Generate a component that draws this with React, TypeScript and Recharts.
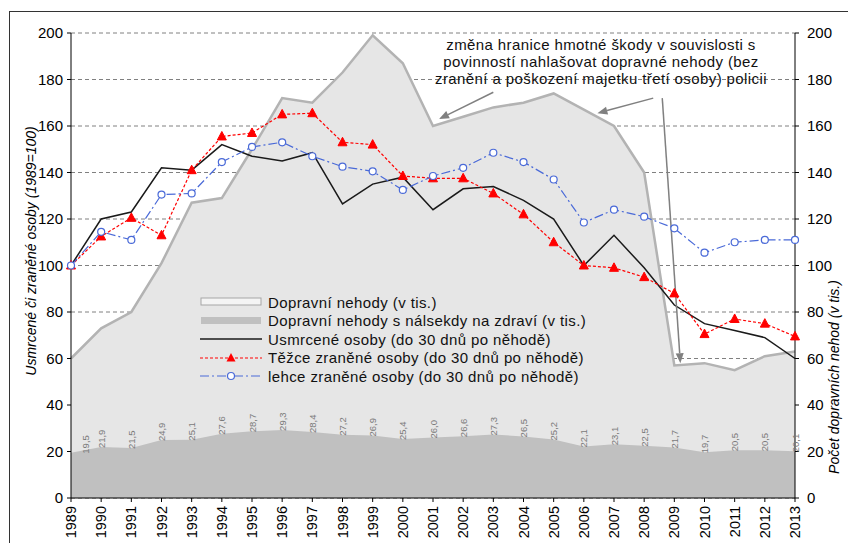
import React from "react";
import {
  ComposedChart,
  Area,
  Line,
  XAxis,
  YAxis,
  CartesianGrid,
  Legend,
  LabelList,
  ReferenceLine,
} from "recharts";

const years = [
  1989, 1990, 1991, 1992, 1993, 1994, 1995, 1996, 1997, 1998, 1999, 2000, 2001,
  2002, 2003, 2004, 2005, 2006, 2007, 2008, 2009, 2010, 2011, 2012, 2013,
];

// Dopravní nehody (v tis.)
const accidents = [
  60, 73, 80, 101, 127, 129, 150, 172, 170, 183, 199, 187, 160, 164, 168, 170,
  174, 167, 160, 140, 57, 58, 55, 61, 63,
];

// Dopravní nehody s následky na zdraví (v tis.)
const injuryAccidents = [
  19.5, 21.9, 21.5, 24.9, 25.1, 27.6, 28.7, 29.3, 28.4, 27.2, 26.9, 25.4, 26.0,
  26.6, 27.3, 26.5, 25.2, 22.1, 23.1, 22.5, 21.7, 19.7, 20.5, 20.5, 20.1,
];

// indexes, 1989 = 100
const killed = [
  100, 120, 123, 142, 141, 152, 147, 145, 148.5, 126.5, 135, 138, 124, 133, 134,
  128, 120, 100, 113, 99, 83, 75, 72, 69, 60,
];
const seriouslyInjured = [
  100, 112.5, 120.5, 113, 141, 155.5, 157, 165, 165.5, 153, 152, 138.5, 137.5,
  137.5, 131, 122, 110, 100, 99, 95, 88, 70.5, 77, 75, 69.5,
];
const slightlyInjured = [
  100, 114.5, 111, 130.5, 131, 144.5, 151, 153, 147, 142.5, 140.5, 132.5, 138.5,
  142, 148.5, 144.5, 137, 118.5, 124, 121, 116, 105.5, 110, 111, 111,
];

const yTicks = [0, 20, 40, 60, 80, 100, 120, 140, 160, 180, 200];

const legendLabels = [
  "Dopravní nehody (v tis.)",
  "Dopravní nehody s nálsekdy na zdraví (v tis.)",
  "Usmrcené osoby (do 30 dnů po něhodě)",
  "Těžce zraněné osoby (do 30 dnů po něhodě)",
  "lehce zraněné osoby (do 30 dnů po něhodě)",
];

const noteLines = [
  "změna hranice hmotné škody v souvislosti s",
  "povinností nahlašovat dopravné nehody (bez",
  "zranění a poškození majetku třetí osoby) policii",
];

// arrows from the note: [fromYear, fromValue, toYear, toValue]
const noteArrows = [
  [2003.0, 174.5, 2001.2, 163],
  [2008.3, 172, 2006.45, 165.5],
  [2008.6, 172, 2009.2, 58],
];

const data = years.map((year, i) => ({
  year,
  accidents: accidents[i],
  injuryAccidents: injuryAccidents[i],
  killed: killed[i],
  seriouslyInjured: seriouslyInjured[i],
  slightlyInjured: slightlyInjured[i],
}));

const FONT = "'Liberation Sans', Arial, sans-serif";

const XTick = (props: any) => {
  const { x, y, payload } = props;
  return (
    <text
      transform={`translate(${x},${y + 2}) rotate(-90)`}
      textAnchor="end"
      dominantBaseline="central"
      fontSize={14.5}
      fontFamily={FONT}
      fill="#000"
    >
      {payload.value}
    </text>
  );
};

const Triangle = (props: any) => {
  const { cx, cy, index } = props;
  if (cx == null || cy == null) return <g key={`t-${index}`} />;
  return (
    <polygon
      key={`t-${index}`}
      points={`${cx},${cy - 5} ${cx - 4.5},${cy + 3.5} ${cx + 4.5},${cy + 3.5}`}
      fill="#ff0000"
      stroke="#ff0000"
      strokeWidth={1}
    />
  );
};

const Ring = (props: any) => {
  const { cx, cy, index } = props;
  if (cx == null || cy == null) return <g key={`r-${index}`} />;
  return (
    <circle
      key={`r-${index}`}
      cx={cx}
      cy={cy}
      r={3.5}
      fill="#fff"
      stroke="#4a6ad8"
      strokeWidth={1.2}
    />
  );
};

const InjuryLabel = (props: any) => {
  const { x, y, value, index } = props;
  const lx = index === 0 ? x + 14 : x;
  return (
    <text
      transform={`translate(${lx},${y + 1}) rotate(-90)`}
      textAnchor="start"
      dominantBaseline="central"
      fontSize={9.5}
      fontFamily={FONT}
      fill="#7a7a7a"
    >
      {Number(value).toFixed(1).replace(".", ",")}
    </text>
  );
};

const Arrow = (props: any) => {
  const { x1, y1, x2, y2 } = props;
  const ang = Math.atan2(y2 - y1, x2 - x1);
  const len = 10;
  const w = 4;
  const bx = x2 - len * Math.cos(ang);
  const by = y2 - len * Math.sin(ang);
  const px = -Math.sin(ang) * w;
  const py = Math.cos(ang) * w;
  return (
    <g>
      <line x1={x1} y1={y1} x2={bx} y2={by} stroke="#808080" strokeWidth={1.5} />
      <polygon
        points={`${x2},${y2} ${bx + px},${by + py} ${bx - px},${by - py}`}
        fill="#808080"
      />
    </g>
  );
};

const LegendSymbol = ({ i }: { i: number }) => {
  if (i === 0)
    return (
      <svg width={62} height={12}>
        <rect x={1} y={2} width={60} height={7} fill="#f4f4f4" stroke="#a6a6a6" />
      </svg>
    );
  if (i === 1)
    return (
      <svg width={62} height={12}>
        <rect x={1} y={2} width={60} height={7} fill="#c0c0c0" />
      </svg>
    );
  if (i === 2)
    return (
      <svg width={62} height={12}>
        <line x1={0} y1={6} x2={62} y2={6} stroke="#1a1a1a" strokeWidth={1.5} />
      </svg>
    );
  if (i === 3)
    return (
      <svg width={62} height={12}>
        <line x1={0} y1={6} x2={62} y2={6} stroke="#ff0000" strokeWidth={1.2} strokeDasharray="3 2" />
        <polygon points="31,1 26.5,9.5 35.5,9.5" fill="#ff0000" />
      </svg>
    );
  return (
    <svg width={62} height={12}>
      <line x1={0} y1={6} x2={62} y2={6} stroke="#4a6ad8" strokeWidth={1.2} strokeDasharray="9 3 2 3" />
      <circle cx={31} cy={6} r={3.5} fill="#fff" stroke="#4a6ad8" strokeWidth={1.2} />
    </svg>
  );
};

const ChartLegend = () => (
  <div style={{ fontFamily: FONT, fontSize: 15, letterSpacing: 0.4, color: "#111" }}>
    {legendLabels.map((label, i) => (
      <div
        key={label}
        style={{ display: "flex", alignItems: "center", height: 18.5, whiteSpace: "nowrap" }}
      >
        <LegendSymbol i={i} />
        <span style={{ marginLeft: 6 }}>{label}</span>
      </div>
    ))}
  </div>
);

export default function App() {
  return (
    <div
      style={{
        position: "absolute",
        left: 0,
        top: 0,
        width: 848,
        height: 543,
        background: "#fff",
        overflow: "hidden",
      }}
    >
      <div
        style={{
          position: "absolute",
          left: 9,
          top: 11,
          width: 860,
          height: 560,
          border: "1.5px solid #333",
          boxSizing: "border-box",
        }}
      />
      <ComposedChart
        width={848}
        height={543}
        data={data}
        margin={{ top: 33, right: 0, bottom: 0, left: 0 }}
        style={{ position: "absolute", left: 0, top: 0 }}
      >
        <CartesianGrid
          yAxisId="left"
          vertical={false}
          stroke="#808080"
          strokeDasharray="4 3"
        />
        <XAxis
          dataKey="year"
          type="number"
          domain={[1989, 2013]}
          ticks={years}
          interval={0}
          height={45}
          tickSize={4}
          stroke="#000"
          tick={<XTick />}
        />
        <YAxis
          yAxisId="left"
          domain={[0, 200]}
          ticks={yTicks}
          width={71}
          tickSize={4}
          tickMargin={4}
          stroke="#000"
          tick={{ fill: "#000", fontSize: 15, fontFamily: FONT }}
          label={{
            position: "insideLeft",
            content: () => (
              <text
                x={31}
                y={251}
                transform="rotate(-90 31 251)"
                textAnchor="middle"
                dominantBaseline="central"
                fontSize={14}
                fontStyle="italic"
                fontFamily={FONT}
                fill="#000"
              >
                Usmrcené či zraněné osoby (1989=100)
              </text>
            ),
          }}
        />
        <YAxis
          yAxisId="right"
          orientation="right"
          domain={[0, 200]}
          ticks={yTicks}
          width={53}
          tickSize={4}
          tickMargin={8}
          stroke="#000"
          tick={{ fill: "#000", fontSize: 15, fontFamily: FONT }}
          label={{
            position: "insideRight",
            content: () => (
              <text
                x={834}
                y={377}
                transform="rotate(-90 834 377)"
                textAnchor="middle"
                dominantBaseline="central"
                fontSize={14}
                fontStyle="italic"
                fontFamily={FONT}
                fill="#000"
              >
                Počet dopravních nehod (v tis.)
              </text>
            ),
          }}
        />
        <Area
          yAxisId="right"
          type="linear"
          dataKey="accidents"
          fill="#e6e6e6"
          fillOpacity={1}
          stroke="#b3b3b3"
          strokeWidth={2.5}
          isAnimationActive={false}
        />
        <Area
          yAxisId="right"
          type="linear"
          dataKey="injuryAccidents"
          fill="#c0c0c0"
          fillOpacity={1}
          stroke="none"
          isAnimationActive={false}
        >
          <LabelList dataKey="injuryAccidents" content={<InjuryLabel />} />
        </Area>
        <Line
          yAxisId="left"
          type="linear"
          dataKey="killed"
          stroke="#1a1a1a"
          strokeWidth={1.5}
          dot={false}
          isAnimationActive={false}
        />
        <Line
          yAxisId="left"
          type="linear"
          dataKey="seriouslyInjured"
          stroke="#ff0000"
          strokeWidth={1.2}
          strokeDasharray="3 2"
          dot={(p: any) => <Triangle {...p} key={`t-${p.index}`} />}
          isAnimationActive={false}
        />
        <Line
          yAxisId="left"
          type="linear"
          dataKey="slightlyInjured"
          stroke="#4a6ad8"
          strokeWidth={1.2}
          strokeDasharray="9 3 2 3"
          dot={(p: any) => <Ring {...p} key={`r-${p.index}`} />}
          isAnimationActive={false}
        />
        {noteArrows.map(([fx, fy, tx, ty], i) => (
          <ReferenceLine
            key={`arrow-${i}`}
            yAxisId="left"
            segment={[
              { x: fx, y: fy },
              { x: tx, y: ty },
            ]}
            shape={(p: any) => <Arrow {...p} />}
          />
        ))}
        <Legend
          layout="horizontal"
          verticalAlign="middle"
          align="center"
          content={<ChartLegend />}
          wrapperStyle={{ position: "absolute", left: 200, top: 293, width: 460 }}
        />
      </ComposedChart>
      <div
        style={{
          position: "absolute",
          left: 400,
          top: 36,
          width: 402,
          textAlign: "center",
          fontFamily: FONT,
          fontSize: 15,
          letterSpacing: 0.4,
          lineHeight: "17px",
          color: "#111",
          pointerEvents: "none",
        }}
      >
        {noteLines.map((l) => (
          <div key={l}>{l}</div>
        ))}
      </div>
    </div>
  );
}
